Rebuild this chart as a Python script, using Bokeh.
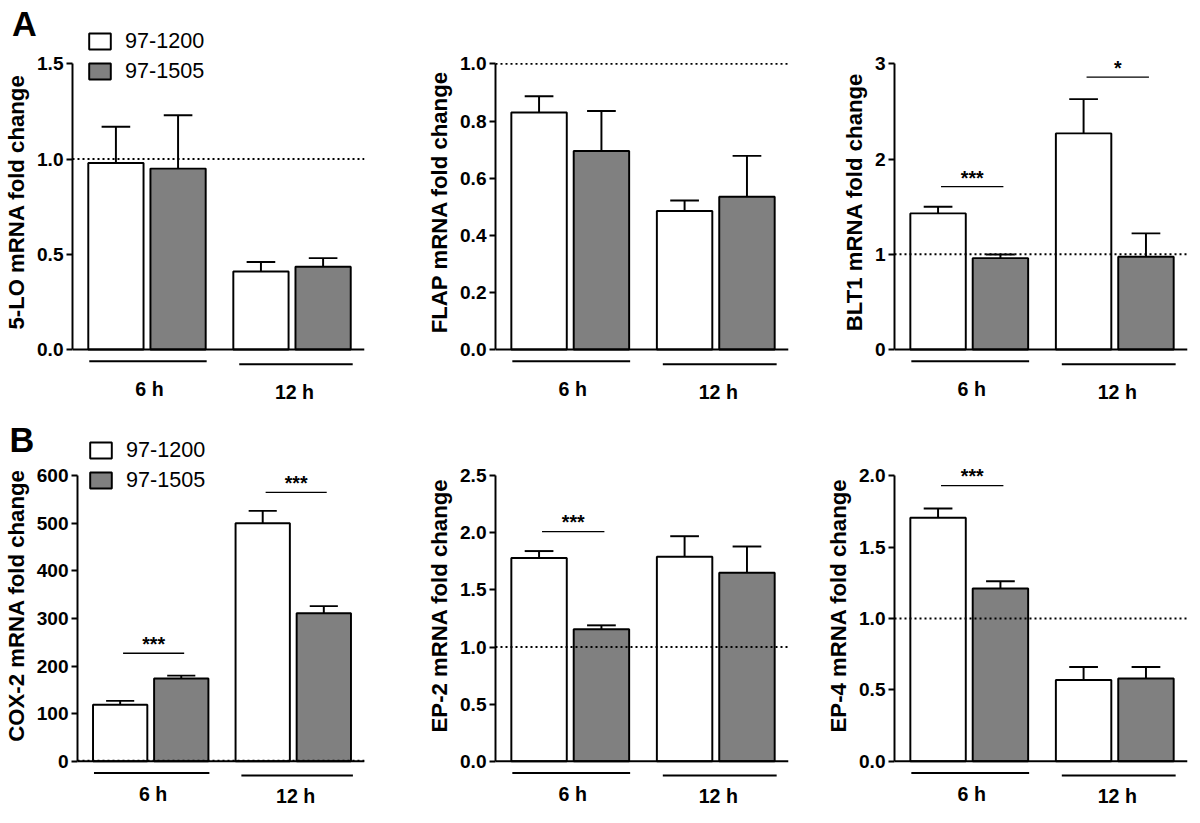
from bokeh.plotting import figure
from bokeh.layouts import row, column
from bokeh.models import Range1d, LinearAxis, FixedTicker, Legend, LegendItem, Label
from bokeh.embed import file_html
from bokeh.resources import INLINE
from bokeh.core.properties import value

# ---------------- data ----------------
groups = ["6 h", "12 h"]
strains = ["97-1200", "97-1505"]
strain_fill = ["#ffffff", "#808080"]
panel_letters = ["A", "B"]
genes = ["5-LO", "FLAP", "BLT1", "COX-2", "EP-2", "EP-4"]

# mean fold change per group (6 h, 12 h) and upper error (SEM)
lo5_1200 = [0.98, 0.41];   lo5_1200_sem = [0.19, 0.05]
lo5_1505 = [0.95, 0.435];  lo5_1505_sem = [0.28, 0.045]
flap_1200 = [0.83, 0.485]; flap_1200_sem = [0.057, 0.037]
flap_1505 = [0.695, 0.535]; flap_1505_sem = [0.14, 0.143]
blt1_1200 = [1.43, 2.27];  blt1_1200_sem = [0.07, 0.36]
blt1_1505 = [0.96, 0.975]; blt1_1505_sem = [0.038, 0.245]
cox2_1200 = [119, 500];    cox2_1200_sem = [8, 26]
cox2_1505 = [174, 311];    cox2_1505_sem = [6, 15]
ep2_1200 = [1.78, 1.79];   ep2_1200_sem = [0.06, 0.18]
ep2_1505 = [1.155, 1.65];  ep2_1505_sem = [0.035, 0.23]
ep4_1200 = [1.705, 0.57];  ep4_1200_sem = [0.065, 0.09]
ep4_1505 = [1.21, 0.58];   ep4_1505_sem = [0.05, 0.08]

ticks_lo5 = ["0.0", "0.5", "1.0", "1.5"]
ticks_flap = ["0.0", "0.2", "0.4", "0.6", "0.8", "1.0"]
ticks_blt1 = ["0", "1", "2", "3"]
ticks_cox2 = ["0", "100", "200", "300", "400", "500", "600"]
ticks_ep2 = ["0.0", "0.5", "1.0", "1.5", "2.0", "2.5"]
ticks_ep4 = ["0.0", "0.5", "1.0", "1.5", "2.0"]

reference_level = 1.0

# significance brackets: panel index, group index, height, text
sig_panel = [2, 2, 3, 3, 4, 5]
sig_group = [0, 1, 0, 1, 0, 0]
sig_level = [1.71, 2.86, 227, 565, 2.01, 1.93]
sig_text = ["***", "*", "***", "***", "***", "***"]

panels = [
    (genes[0], [lo5_1200, lo5_1505], [lo5_1200_sem, lo5_1505_sem], ticks_lo5),
    (genes[1], [flap_1200, flap_1505], [flap_1200_sem, flap_1505_sem], ticks_flap),
    (genes[2], [blt1_1200, blt1_1505], [blt1_1200_sem, blt1_1505_sem], ticks_blt1),
    (genes[3], [cox2_1200, cox2_1505], [cox2_1200_sem, cox2_1505_sem], ticks_cox2),
    (genes[4], [ep2_1200, ep2_1505], [ep2_1200_sem, ep2_1505_sem], ticks_ep2),
    (genes[5], [ep4_1200, ep4_1505], [ep4_1200_sem, ep4_1505_sem], ticks_ep4),
]

# ---------------- layout (reference pixels, scaled) ----------------
SX = 0.99
SY = 0.975
SF = 0.98
FONT = "Liberation Sans"
COL_W = 400
ROW_SPLIT = 413
TOTAL_H = 807
AXIS_X = [72, 100, 103]
ZERO_Y = [358, 367]
TOP_Y = [65, 74]
FRAME_W = 296
BAR_W = 56
BAR_STEP = 63
GROUP_STEP = 147
FIRST = 16
LW = 2 * SF
TEXT_SHIFT = 8.0   # screen px between text anchor and drawn glyph centre


def fs(px):
    return f"{px * SF:.1f}px"


def make_panel(i):
    gene, means, sems, tick_labels = panels[i]
    col, rw = i % 3, i // 3
    ymax = float(tick_labels[-1])
    ticks = [float(t) for t in tick_labels]
    W = round(COL_W * SX)
    H1 = round(ROW_SPLIT * SY)
    Hp = H1 if rw == 0 else TOTAL_H - H1
    ml = round(AXIS_X[col] * SX)
    fw = round(FRAME_W * SX)
    mr = W - ml - fw
    span = ZERO_Y[rw] - TOP_Y[rw]
    u = ymax / span  # value per reference pixel
    y_start = u * (ZERO_Y[rw] * SY - Hp) / SY
    y_end = u * ZERO_Y[rw]
    p = figure(width=W, height=Hp, x_range=Range1d(0, fw / SX), y_range=Range1d(y_start, y_end),
               x_axis_type=None, y_axis_type=None, toolbar_location=None, output_backend="svg",
               title=None, min_border_left=ml, min_border_right=mr, min_border_top=0,
               min_border_bottom=0, outline_line_color=None, background_fill_color="white",
               border_fill_color="white")

    yax = LinearAxis(ticker=FixedTicker(ticks=ticks), bounds=(0, ymax),
                     major_label_overrides={t: l for t, l in zip(ticks, tick_labels)},
                     axis_label=f"{gene} mRNA fold change")
    yax.axis_line_width = LW
    yax.axis_line_color = "black"
    yax.major_tick_line_width = LW
    yax.major_tick_line_color = "black"
    yax.major_tick_out = round(6 * SF)
    yax.major_tick_in = 0
    yax.minor_tick_line_color = None
    yax.major_label_standoff = round(3 * SF)
    yax.major_label_text_font = FONT
    yax.major_label_text_font_style = "bold"
    yax.major_label_text_font_size = fs(19.5)
    yax.major_label_text_color = "black"
    yax.axis_label_text_font = FONT
    yax.axis_label_text_font_style = "bold"
    yax.axis_label_text_font_size = fs(22.7)
    yax.axis_label_text_color = "black"
    yax.axis_label_standoff = round(5 * SF)
    p.add_layout(yax, "left")

    renderers = []
    for s in range(2):
        xs = [FIRST + BAR_W / 2 + s * BAR_STEP + g * GROUP_STEP for g in range(len(groups))]
        tops = [m + e for m, e in zip(means[s], sems[s])]
        p.segment(x0=xs, y0=means[s], x1=xs, y1=tops, line_color="black", line_width=LW)
        p.segment(x0=[x - 14.5 for x in xs], y0=tops, x1=[x + 14.5 for x in xs], y1=tops,
                  line_color="black", line_width=LW)
        r = p.vbar(x=xs, top=means[s], bottom=0, width=BAR_W, fill_color=strain_fill[s],
                   line_color="black", line_width=LW)
        renderers.append(r)

    # x axis baseline
    p.segment(x0=[0], y0=[0], x1=[FRAME_W], y1=[0], line_color="black", line_width=LW)
    # reference line
    p.segment(x0=[0], y0=[reference_level], x1=[FRAME_W], y1=[reference_level],
              line_color="black", line_width=LW, line_dash="2 3")

    # group underlines and labels (anchor offsets below zero, reference px)
    line_off = [[12, 15], [12, 14.5]][rw]
    lab_off = [[32, 35], [25.8, 27.8]][rw]
    for g, name in enumerate(groups):
        left = FIRST + g * GROUP_STEP
        right = left + BAR_STEP + BAR_W
        p.segment(x0=[left + 1 + 5 * g], y0=[-u * line_off[g]], x1=[right + 1 + g],
                  y1=[-u * line_off[g]], line_color="black", line_width=LW)
        p.text(x=[(left + right) / 2 + 2.5], y=[-u * (lab_off[g] + TEXT_SHIFT / SY)], text=[name],
               text_font=value(FONT), text_font_style="bold", text_font_size=fs(20),
               text_align="center", text_baseline="alphabetic", text_color="black")

    # significance
    for k in range(len(sig_panel)):
        if sig_panel[k] != i:
            continue
        g = sig_group[k]
        x0 = FIRST + BAR_W / 2 + g * GROUP_STEP + 3
        x1 = x0 + BAR_STEP
        p.segment(x0=[x0], y0=[sig_level[k]], x1=[x1], y1=[sig_level[k]],
                  line_color="black", line_width=1.3 * SF)
        p.text(x=[(x0 + x1) / 2], y=[sig_level[k] + u * (12 - 2.5 / SY)], text=[sig_text[k]],
               text_font=value(FONT), text_font_style="bold", text_font_size=fs(20),
               text_align="center", text_baseline="alphabetic", text_color="black")

    if col == 0:
        leg_x = [14, 10][rw]
        leg_top = [22, 30][rw]
        leg_shift = [1.5, 0][rw]
        legend = Legend(items=[LegendItem(label=strains[s], renderers=[renderers[s]]) for s in range(2)],
                        location=(round(leg_x * SX), Hp - round(leg_top * SY) - 61 - leg_shift))
        legend.border_line_color = None
        legend.background_fill_alpha = 0
        legend.padding = 0
        legend.margin = 0
        legend.spacing = 4
        legend.glyph_width = round(27 * SX)
        legend.glyph_height = round(20 * SY)
        legend.label_height = round(20 * SY)
        legend.label_standoff = round(12 * SX)
        legend.label_text_font = FONT
        legend.label_text_font_size = fs(22)
        legend.label_text_color = "black"
        p.add_layout(legend)
        # panel letter, placed in the (empty) right border and shifted to the far left
        lab_cy = [17.5, 31.5][rw]
        lab_cx = [16, 13.5][rw]
        p.add_layout(Label(x=lab_cx * SX + 8 - (ml + fw), y=Hp - (lab_cy * SY + 6),
                           x_units="screen", y_units="screen", text=panel_letters[rw],
                           text_font=FONT, text_font_style="bold", text_font_size=fs(35),
                           text_align="center", text_baseline="alphabetic", text_color="black"),
                     "right")
    return p


figs = [make_panel(i) for i in range(6)]
layout = column(row(*figs[:3]), row(*figs[3:]))
open("out.html", "w").write(file_html(layout, INLINE))
